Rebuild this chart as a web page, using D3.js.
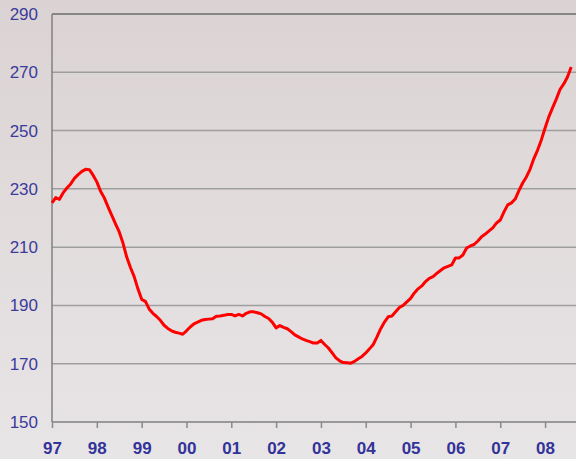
<!DOCTYPE html>
<html>
<head>
<meta charset="utf-8">
<script src="https://cdn.jsdelivr.net/npm/d3@7"></script>
<style>
  html, body { margin: 0; padding: 0; }
  svg { display: block; }
</style>
</head>
<body>
<svg id="chart"></svg>
<script>
"use strict";

// monthly values, Jan 1997 onwards
const values = [
  225.2, 227.0, 226.4, 228.7, 230.3, 231.7, 233.6, 234.9, 236.0, 236.7, 236.6, 234.7,
  232.4, 229.2, 226.9, 223.8, 220.9, 218.0, 215.2, 211.4, 206.6, 203.0, 199.9, 195.7,
  192.1, 191.4, 188.8, 187.3, 186.2, 184.9, 183.2, 182.1, 181.3, 180.8, 180.5, 180.1,
  181.3, 182.6, 183.7, 184.3, 184.9, 185.2, 185.3, 185.4, 186.3, 186.4, 186.6, 186.9,
  186.9, 186.4, 186.9, 186.4, 187.3, 187.8, 187.8, 187.5, 187.1, 186.2, 185.5, 184.2,
  182.3, 183.1, 182.5, 182.0, 181.0, 179.9, 179.2, 178.5, 178.0, 177.6, 177.1, 177.1,
  178.0, 176.6, 175.4, 173.7, 172.0, 171.0, 170.4, 170.3, 170.2, 170.8, 171.7, 172.5,
  173.7, 175.1, 176.6, 179.2, 182.0, 184.3, 186.1, 186.4, 187.8, 189.3, 190.0, 191.2,
  192.4, 194.3, 195.7, 196.7, 198.2, 199.3, 199.9, 201.0, 202.0, 202.9, 203.4, 203.9,
  206.3, 206.3, 207.3, 209.7, 210.4, 210.9, 212.1, 213.6, 214.5, 215.6, 216.6, 218.3,
  219.3, 222.1, 224.5, 225.2, 226.5, 229.4, 232.0, 234.1, 236.8, 240.4, 243.3, 246.8,
  250.9, 254.7, 257.8, 260.8, 264.1, 266.0, 268.4, 271.8
];
const startYear = 1997;
const yearTicks = d3.range(1997, 2009);
const yearLabels = ["97", "98", "99", "00", "01", "02", "03", "04", "05", "06", "07", "08"];
const yTicks = [150, 170, 190, 210, 230, 250, 270, 290];

const data = values.map((v, i) => ({ t: startYear + i / 12, v: v }));

const width = 576;
const height = 459;
const margin = { top: 14, right: 0, bottom: 37, left: 52 };

const svg = d3.select("#chart")
  .attr("width", width)
  .attr("height", height);

// background gradient
const defs = svg.append("defs");
const grad = defs.append("linearGradient")
  .attr("id", "bg")
  .attr("x1", 0).attr("y1", 0).attr("x2", 0).attr("y2", 1);
grad.append("stop").attr("offset", "0%").attr("stop-color", "#dbd3d3");
grad.append("stop").attr("offset", "100%").attr("stop-color", "#e8e5e6");
svg.append("rect")
  .attr("width", width)
  .attr("height", height)
  .attr("fill", "url(#bg)");

const x = d3.scaleLinear()
  .domain([1997, 2008.69])
  .range([margin.left, width - margin.right]);

const y = d3.scaleLinear()
  .domain([150, 290])
  .range([height - margin.bottom, margin.top]);

// gridlines
svg.append("g")
  .selectAll("line")
  .data(yTicks.filter((d) => d > 150))
  .join("line")
  .attr("x1", margin.left)
  .attr("x2", width)
  .attr("y1", (d) => y(d))
  .attr("y2", (d) => y(d))
  .attr("stroke", (d) => (d === 290 ? "#858585" : "#9e9e9e"))
  .attr("stroke-width", (d) => (d === 290 ? 2 : 1.5));

// y axis labels
svg.append("g")
  .selectAll("text")
  .data(yTicks)
  .join("text")
  .attr("x", 38)
  .attr("y", (d) => y(d) + 6)
  .attr("text-anchor", "end")
  .attr("font-family", "Liberation Sans, Arial, sans-serif")
  .attr("font-size", 17)
  .attr("fill", "#3b3b9c")
  .text((d) => d);

// x axis
const xAxis = d3.axisBottom(x)
  .tickValues(yearTicks)
  .tickSize(6)
  .tickFormat((d, i) => yearLabels[i]);

const gx = svg.append("g")
  .attr("transform", `translate(0,${y(150)})`)
  .call(xAxis);
gx.select(".domain")
  .attr("d", `M${margin.left},0H${width}`)
  .attr("stroke", "#808080")
  .attr("stroke-width", 1.5);
gx.selectAll(".tick line")
  .attr("stroke", "#8a8a8a")
  .attr("stroke-width", 1.5);
gx.selectAll(".tick text")
  .attr("y", 17)
  .attr("dy", 15)
  .attr("font-family", "Liberation Sans, Arial, sans-serif")
  .attr("font-size", 17)
  .attr("font-weight", "bold")
  .attr("fill", "#333399");

// y axis line
svg.append("line")
  .attr("x1", margin.left)
  .attr("x2", margin.left)
  .attr("y1", y(290))
  .attr("y2", y(150))
  .attr("stroke", "#808080")
  .attr("stroke-width", 1.5);

// the line
const line = d3.line()
  .x((d) => x(d.t))
  .y((d) => y(d.v));

svg.append("path")
  .datum(data)
  .attr("d", line)
  .attr("fill", "none")
  .attr("stroke", "#ff0000")
  .attr("stroke-width", 3)
  .attr("stroke-linejoin", "round");
</script>
</body>
</html>
